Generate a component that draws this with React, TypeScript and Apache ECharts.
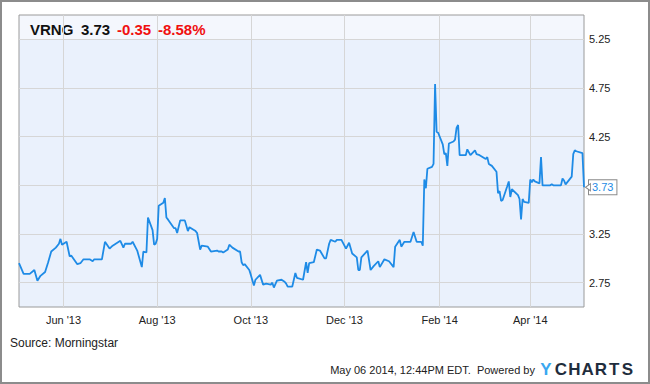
import React, { useEffect, useRef } from 'react';
import * as echarts from 'echarts';

const ticker = 'VRNG';

const dates = [
  '2013-05-03','2013-05-06','2013-05-10','2013-05-13','2013-05-15','2013-05-17','2013-05-20','2013-05-22','2013-05-24','2013-05-27',
  '2013-05-29','2013-05-30','2013-05-31','2013-06-03','2013-06-05','2013-06-06','2013-06-10','2013-06-12','2013-06-14','2013-06-18',
  '2013-06-20','2013-06-21','2013-06-26','2013-06-28','2013-07-01','2013-07-03','2013-07-05','2013-07-08','2013-07-10','2013-07-11',
  '2013-07-15','2013-07-16','2013-07-19','2013-07-22','2013-07-23','2013-07-25','2013-07-26','2013-07-29','2013-07-30','2013-07-31',
  '2013-08-01','2013-08-02','2013-08-05','2013-08-06','2013-08-07','2013-08-08','2013-08-12','2013-08-13','2013-08-14','2013-08-16',
  '2013-08-19','2013-08-21','2013-08-22','2013-08-26','2013-08-27','2013-08-29','2013-08-30','2013-09-03','2013-09-05','2013-09-09',
  '2013-09-10','2013-09-12','2013-09-13','2013-09-16','2013-09-17','2013-09-19','2013-09-23','2013-09-24','2013-09-25','2013-09-26',
  '2013-09-27','2013-09-30','2013-10-01','2013-10-03','2013-10-04','2013-10-07','2013-10-09','2013-10-11','2013-10-14','2013-10-15',
  '2013-10-16','2013-10-18','2013-10-21','2013-10-23','2013-10-24','2013-10-25','2013-10-28','2013-10-30','2013-10-31','2013-11-04',
  '2013-11-06','2013-11-07','2013-11-08','2013-11-11','2013-11-13','2013-11-15','2013-11-18','2013-11-19','2013-11-21','2013-11-22',
  '2013-11-25','2013-11-26','2013-11-29','2013-12-02','2013-12-04','2013-12-06','2013-12-09','2013-12-10','2013-12-11','2013-12-12',
  '2013-12-16','2013-12-18','2013-12-20','2013-12-23','2013-12-24','2013-12-27','2013-12-30','2014-01-02','2014-01-03','2014-01-06',
  '2014-01-07','2014-01-09','2014-01-13','2014-01-15','2014-01-17','2014-01-20','2014-01-21','2014-01-22','2014-01-23','2014-01-24',
  '2014-01-27','2014-01-28','2014-01-29','2014-01-30','2014-01-31','2014-02-03','2014-02-04','2014-02-05','2014-02-06','2014-02-07',
  '2014-02-10','2014-02-11','2014-02-12','2014-02-13','2014-02-14','2014-02-18','2014-02-19','2014-02-21','2014-02-24','2014-02-25',
  '2014-02-27','2014-03-03','2014-03-04','2014-03-05','2014-03-07','2014-03-10','2014-03-11','2014-03-12','2014-03-13','2014-03-14',
  '2014-03-17','2014-03-18','2014-03-19','2014-03-20','2014-03-24','2014-03-25','2014-03-26','2014-03-27','2014-03-28','2014-03-31',
  '2014-04-01','2014-04-02','2014-04-03','2014-04-04','2014-04-07','2014-04-08','2014-04-09','2014-04-14','2014-04-15','2014-04-16',
  '2014-04-21','2014-04-22','2014-04-23','2014-04-24','2014-04-28','2014-04-29','2014-04-30','2014-05-01','2014-05-05','2014-05-06'
];

const prices = [
  2.95, 2.84, 2.84, 2.88, 2.77, 2.82, 2.86, 2.96, 3.07, 3.11,
  3.15, 3.20, 3.14, 3.17, 3.02, 3.03, 2.94, 2.95, 2.99, 2.99,
  2.97, 2.99, 2.99, 3.17, 3.10, 3.13, 3.15, 3.18, 3.11, 3.15,
  3.15, 3.17, 3.08, 2.91, 3.07, 3.06, 3.42, 3.29, 3.14, 3.15,
  3.20, 3.54, 3.57, 3.62, 3.42, 3.40, 3.31, 3.31, 3.26, 3.39,
  3.39, 3.28, 3.32, 3.28, 3.26, 3.09, 3.13, 3.12, 3.07, 3.08,
  3.07, 3.07, 3.06, 3.09, 3.14, 3.11, 3.07, 3.07, 2.96, 2.93,
  2.94, 2.88, 2.83, 2.72, 2.78, 2.83, 2.73, 2.74, 2.73, 2.75,
  2.70, 2.77, 2.78, 2.76, 2.74, 2.71, 2.71, 2.85, 2.80, 2.78,
  2.96, 2.85, 2.95, 2.96, 3.09, 3.08, 3.00, 3.00, 3.15, 3.19,
  3.17, 3.19, 3.19, 3.10, 3.16, 3.05, 3.01, 2.88, 2.88, 3.01,
  3.08, 2.88, 2.92, 2.97, 2.91, 2.99, 2.97, 2.91, 3.12, 3.19,
  3.12, 3.17, 3.17, 3.27, 3.17, 3.17, 3.13, 3.81, 3.72, 3.92,
  3.94, 3.97, 4.79, 4.30, 4.29, 4.17, 4.07, 4.08, 3.95, 4.18,
  4.20, 4.22, 4.34, 4.37, 4.06, 4.06, 4.12, 4.06, 4.11, 4.07,
  4.06, 4.02, 4.04, 3.97, 3.95, 3.89, 3.67, 3.69, 3.59, 3.60,
  3.74, 3.79, 3.63, 3.71, 3.65, 3.61, 3.40, 3.61, 3.58, 3.57,
  3.81, 3.78, 3.81, 3.79, 3.77, 4.04, 3.75, 3.75, 3.76, 3.75,
  3.75, 3.82, 3.80, 3.76, 3.84, 4.07, 4.11, 4.10, 4.08, 3.73
];

const xRange = ['2013-05-03', '2014-05-06'];
const xTickDates = ['2013-06-01', '2013-08-01', '2013-10-01', '2013-12-01', '2014-02-01', '2014-04-01'];
const xTickLabels = ["Jun '13", "Aug '13", "Oct '13", "Dec '13", "Feb '14", "Apr '14"];
const yRange = [2.5, 5.5];
const yStep = 0.25;
const yTickLabels = ['2.75', '3.25', '4.25', '4.75', '5.25'];
const headerTop = 5.25;

const sourceText = 'Source: Morningstar';
const stampText = 'May 06 2014, 12:44PM EDT.  Powered by';
const logoY = 'Y';
const logoRest = ['C', 'H', 'A', 'R', 'T', 'S'];

const FONT = '"Liberation Sans", Arial, Helvetica, sans-serif';
const W = 650;
const H = 384;
const GL = 19;
const GR = 66;
const GT = 15;
const GB = 77;
const LINE = '#1e8be6';

function ts(s: string): number {
  const [y, m, d] = s.split('-').map(Number);
  return Date.UTC(y, m - 1, d);
}

export default function App() {
  const ref = useRef<HTMLDivElement>(null);

  useEffect(() => {
    if (!ref.current) return;
    const chart = echarts.init(ref.current, undefined, { renderer: 'svg' });

    const data = dates.map((d, i) => [ts(d), prices[i]]);
    const xTickTs = xTickDates.map(ts);
    const last = prices[prices.length - 1];
    const prev = prices[prices.length - 2];
    const chg = last - prev;
    const pct = (chg / prev) * 100;

    const plotW = W - GL - GR;
    const plotH = H - GT - GB;
    const headerH = ((yRange[1] - headerTop) / (yRange[1] - yRange[0])) * plotH;

    const headFont = `bold 15px ${FONT}`;

    const option: any = {
      animation: false,
      textStyle: { fontFamily: FONT },
      grid: {
        left: GL, right: GR, top: GT, bottom: GB,
        show: true, borderColor: '#9a9a9a', borderWidth: 1, backgroundColor: 'transparent',
      },
      xAxis: {
        type: 'value',
        min: ts(xRange[0]),
        max: ts(xRange[1]),
        axisLine: { show: false },
        axisTick: { show: false, customValues: xTickTs },
        axisLabel: {
          customValues: xTickTs,
          formatter: (v: number) => {
            const i = xTickTs.indexOf(v);
            return i >= 0 ? xTickLabels[i] : '';
          },
          color: '#222', fontSize: 11, margin: 7, fontFamily: FONT,
        },
        splitLine: { show: true, lineStyle: { color: '#d6d6d6', width: 1 } },
      },
      yAxis: {
        type: 'value',
        position: 'right',
        min: yRange[0],
        max: yRange[1],
        interval: yStep,
        axisLine: { show: false },
        axisTick: { show: false },
        axisLabel: {
          formatter: (v: number) => (yTickLabels.includes(v.toFixed(2)) ? v.toFixed(2) : ''),
          color: '#222', fontSize: 11, margin: 5, fontFamily: FONT,
        },
        splitLine: { show: true, lineStyle: { color: ['rgba(0,0,0,0)', '#d6d6d6'], width: 1 } },
      },
      series: [
        {
          type: 'line',
          data,
          showSymbol: false,
          symbol: 'none',
          lineStyle: { color: LINE, width: 1.8 },
          endLabel: {
            show: true,
            formatter: () => last.toFixed(2),
            color: LINE,
            fontSize: 11,
            fontFamily: FONT,
            backgroundColor: '#fff',
            borderColor: '#8a8a8a',
            borderWidth: 1,
            padding: [2, 3, 1, 3],
            distance: 5,
          },
          markPoint: {
            silent: true,
            symbol: 'triangle',
            symbolSize: [7, 5],
            symbolRotate: 90,
            symbolOffset: [4, 0],
            label: { show: false },
            itemStyle: { color: '#fff', borderColor: '#8a8a8a', borderWidth: 1 },
            data: [{ coord: data[data.length - 1] }],
          },
        },
      ],
      graphic: [
        {
          type: 'rect', z: -10, silent: true,
          shape: { x: GL, y: GT, width: plotW, height: plotH },
          style: { fill: '#eaf1fc' },
        },
        {
          type: 'rect', z: -9, silent: true,
          shape: { x: GL, y: GT, width: plotW, height: headerH },
          style: { fill: '#f4f7fd' },
        },
        {
          type: 'rect', silent: true,
          shape: { x: 1, y: 1, width: W - 2, height: H - 2 },
          style: { fill: 'none', stroke: '#8c8c8c', lineWidth: 2 },
        },
        { type: 'text', x: 30, y: 29, style: { text: ticker, fill: '#111', font: headFont, textVerticalAlign: 'middle' } },
        { type: 'text', x: 81, y: 29, style: { text: last.toFixed(2), fill: '#111', font: headFont, textVerticalAlign: 'middle' } },
        { type: 'text', x: 117, y: 29, style: { text: chg.toFixed(2), fill: '#f01010', font: headFont, textVerticalAlign: 'middle' } },
        { type: 'text', x: 158, y: 29, style: { text: pct.toFixed(2) + '%', fill: '#f01010', font: headFont, textVerticalAlign: 'middle' } },
        { type: 'text', x: 10, y: 343, style: { text: sourceText, fill: '#222', font: `12px ${FONT}`, textVerticalAlign: 'middle' } },
        { type: 'text', x: 535, y: 370, style: { text: stampText, fill: '#222', font: `11px ${FONT}`, textAlign: 'right', textVerticalAlign: 'middle' } },
        { type: 'text', x: 546, y: 369, style: { text: logoY, fill: '#3aa7f0', font: `bold 17px ${FONT}`, textAlign: 'center', textVerticalAlign: 'middle' } },
        ...logoRest.map((ch, i) => ({
          type: 'text', x: 561 + i * 13.3, y: 369,
          style: { text: ch, fill: '#1f2d3d', font: `bold 17px ${FONT}`, textAlign: 'center', textVerticalAlign: 'middle' },
        })),
      ],
    };

    chart.setOption(option);
    return () => chart.dispose();
  }, []);

  return (
    <div
      ref={ref}
      style={{ position: 'fixed', left: 0, top: 0, width: W, height: H, background: '#fff' }}
    />
  );
}
